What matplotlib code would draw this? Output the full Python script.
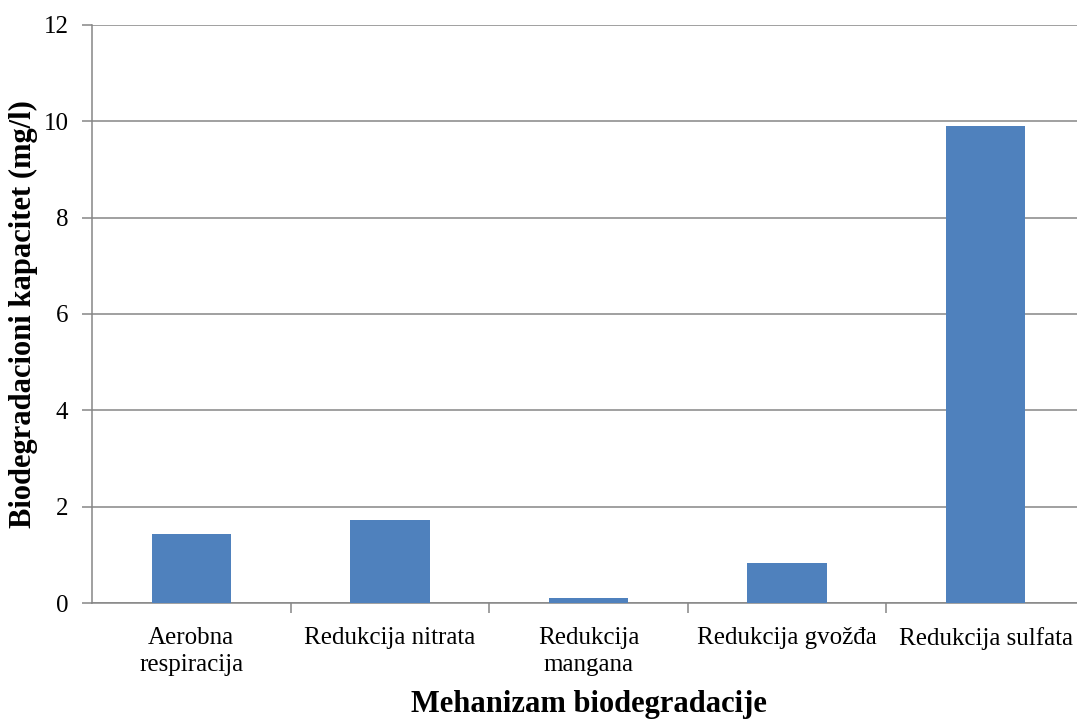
import matplotlib
matplotlib.use("Agg")
from matplotlib import pyplot as plt
from matplotlib.ticker import FixedLocator, NullFormatter

# Data
categories = ["Aerobna\nrespiracija", "Redukcija nitrata", "Redukcija\nmangana",
              "Redukcija gvožđa", "Redukcija sulfata"]
capacity = [1.44, 1.73, 0.11, 0.83, 9.90]
y_ticks = [0, 2, 4, 6, 8, 10, 12]

plt.rcParams['font.family'] = ['Liberation Serif', 'DejaVu Serif']

fig = plt.figure(figsize=(10.77, 7.2), dpi=100)
ax = fig.add_axes([0.0854, 0.1625, 0.922, 0.8028])

x = list(range(len(categories)))
ax.bar(x, capacity, width=0.4, color='#4F81BD', zorder=3)

ax.set_xlim(-0.5, len(categories) - 0.5)
ax.set_ylim(0, 12)
ax.set_yticks(y_ticks)
ax.yaxis.grid(True, color='#868686', linewidth=1.1, zorder=0)

# category boundaries as major ticks, labels on minor ticks at centers
ax.xaxis.set_major_locator(FixedLocator([i + 0.5 for i in x[:-1]]))
ax.xaxis.set_major_formatter(NullFormatter())
ax.xaxis.set_minor_locator(FixedLocator(x))
ax.set_xticklabels(categories, minor=True)
ax.tick_params(axis='x', which='minor', length=0, labelsize=18, pad=17)
ax.tick_params(axis='x', which='major', length=7, width=1.1, color='#868686', direction='out')
ax.tick_params(axis='y', length=7, width=1.1, color='#868686', labelsize=18, pad=10)
for lbl in ax.get_xticklabels(minor=True):
    lbl.set_linespacing(1.33)

for side in ['top', 'right']:
    ax.spines[side].set_visible(False)
for side in ['left', 'bottom']:
    ax.spines[side].set_color('#868686')
    ax.spines[side].set_linewidth(1.1)

ax.set_xlabel('Mehanizam biodegradacije', fontsize=22, fontweight='bold', va='baseline')
ax.set_ylabel('Biodegradacioni kapacitet (mg/l)', fontsize=22, fontweight='bold', va='center')
ax.xaxis.set_label_coords(0.5, -0.1886)
ax.yaxis.set_label_coords(-0.0685, 0.5)

fig.savefig('out.png', dpi=100)
